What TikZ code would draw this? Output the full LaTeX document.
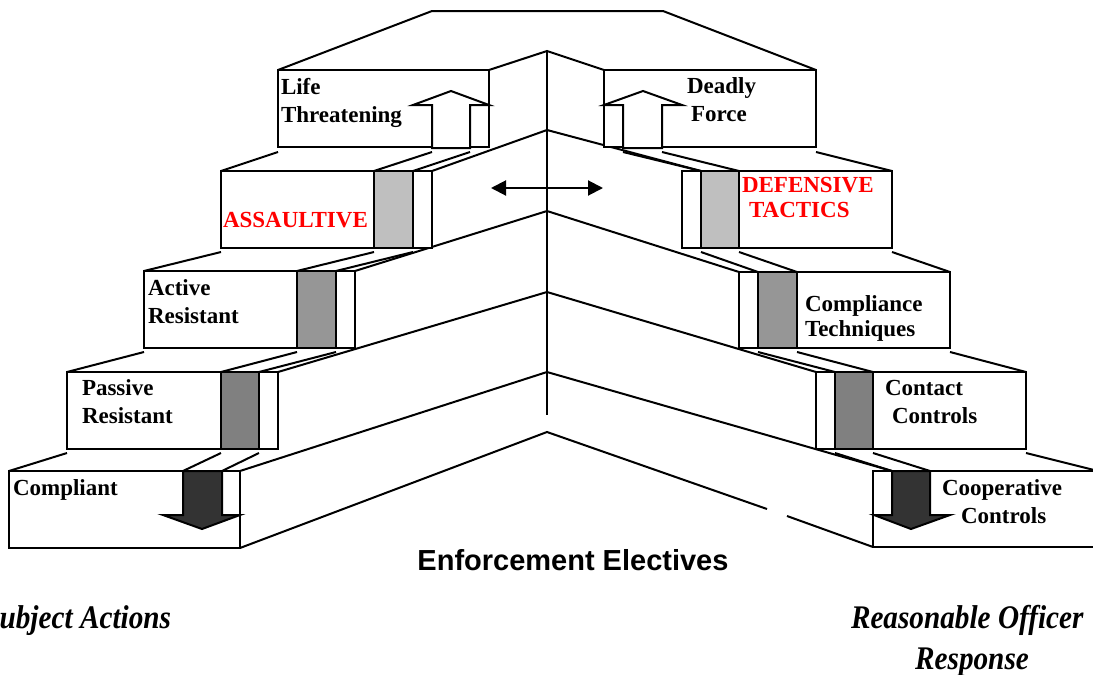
\documentclass[tikz,border=0pt]{standalone}
\usepackage{fontspec}
\setmainfont{Liberation Serif}
\newfontfamily\arialfont{Liberation Sans}
\usetikzlibrary{arrows.meta}

\definecolor{barlight}{rgb}{0.75,0.75,0.75}
\definecolor{barmid}{rgb}{0.59,0.59,0.59}
\definecolor{bardark}{rgb}{0.5,0.5,0.5}
\definecolor{arrowdark}{rgb}{0.2,0.2,0.2}
\definecolor{labelred}{rgb}{1,0,0}

\begin{document}
\begin{tikzpicture}[x=0.5pt, y=-0.5pt, line width=1pt,
  face/.style={draw, fill=white},
  steplabel/.style={font=\fontsize{11.5}{14}\selectfont\bfseries, inner sep=0pt,
    anchor=base west, text width=150pt, align=left},
  tightlabel/.style={steplabel, font=\fontsize{11.5}{12.5}\selectfont\bfseries},
  sidelabel/.style={font=\fontsize{16.5}{20}\selectfont\bfseries\itshape, inner sep=0pt}]
\useasboundingbox (0,0) rectangle (1093,675);
\fill[white] (0,0) rectangle (1093,675);

\draw (278,70) -- (432,11) -- (663,11) -- (816,70);
\draw (547,51) -- (547,415);
\draw (489,70) -- (547,51) -- (604,70);
\draw (432,171) -- (547,130) -- (701,171);
\draw (355,271) -- (547,211) -- (739,272);
\draw (278,372) -- (547,292) -- (816,372);
\draw (240,471) -- (547,372) -- (892,471);
\draw (240,548) -- (547,432) -- (767,509);
\draw (787,516) -- (873,547);

\draw (278,152) -- (221,171);
\draw (432,152) -- (374,171);
\draw (470,152) -- (413,171);
\draw (221,252) -- (144,271);
\draw (374,252) -- (297,271);
\draw (413,252) -- (336,271);
\draw (144,352) -- (67,372);
\draw (297,352) -- (221,372);
\draw (336,352) -- (259,372);
\draw (67,453) -- (9,471);
\draw (221,453) -- (183,471);
\draw (259,453) -- (222,471);

\draw (623,152) -- (701,171);
\draw (662,152) -- (739,171);
\draw (816,152) -- (892,171);
\draw (701,252) -- (758,272);
\draw (739,252) -- (797,272);
\draw (892,252) -- (950,272);
\draw (758,352) -- (835,372);
\draw (797,352) -- (873,372);
\draw (950,352) -- (1026,372);
\draw (835,453) -- (892,471);
\draw (873,453) -- (930,471);
\draw (1026,453) -- (1110,474);

\draw[face] (278,70) rectangle (489,147);
\draw[face] (432,148) -- (432,105) -- (413,105) -- (451,91) -- (489,105) -- (470,105) -- (470,148) -- cycle;
\draw[face] (221,171) rectangle (432,248);
\draw[fill=barlight] (374,171) rectangle (413,248);
\draw[face] (144,271) rectangle (355,348);
\draw[fill=barmid] (297,271) rectangle (336,348);
\draw[face] (67,372) rectangle (278,449);
\draw[fill=bardark] (221,372) rectangle (259,449);
\draw[face] (9,471) rectangle (240,548);
\draw[fill=arrowdark] (183,471) -- (183,515) -- (163,515) -- (202,529) -- (240,515) -- (222,515) -- (222,471) -- cycle;

\draw[face] (604,70) rectangle (816,147);
\draw[face] (623,148) -- (623,105) -- (604,105) -- (643,91) -- (682,105) -- (662,105) -- (662,148) -- cycle;
\draw[face] (682,171) rectangle (892,248);
\draw[fill=barlight] (701,171) rectangle (739,248);
\draw[face] (739,272) rectangle (950,348);
\draw[fill=barmid] (758,272) rectangle (797,348);
\draw[face] (816,372) rectangle (1026,449);
\draw[fill=bardark] (835,372) rectangle (873,449);
\draw[face] (873,471) rectangle (1110,547);
\draw[fill=arrowdark] (892,471) -- (892,515) -- (874,515) -- (911,529) -- (950,515) -- (930,515) -- (930,471) -- cycle;

\coordinate (swapleft) at (491,188);
\coordinate (swapright) at (603,188);
\draw[{Triangle[length=7.5pt,width=7.5pt]}-{Triangle[length=7.5pt,width=7.5pt]}] (swapleft) -- (swapright);

\node[steplabel] (life) at (280,94) {Life\\Threatening};
\node[steplabel] (deadly) at (686,93) {Deadly\\\hspace*{2pt}Force};
\node[steplabel, text=labelred] (assaultive) at (222,227) {ASSAULTIVE};
\node[tightlabel, text=labelred] (defensive) at (741,192) {DEFENSIVE\\\hspace*{3.5pt}TACTICS};
\node[steplabel] (active) at (147,295) {Active\\Resistant};
\node[tightlabel] (compliance) at (804,311) {Compliance\\Techniques};
\node[steplabel] (passive) at (81,395) {Passive\\Resistant};
\node[steplabel] (contact) at (884,395) {Contact\\\hspace*{3.5pt}Controls};
\node[steplabel] (compliant) at (12,495) {Compliant};
\node[steplabel] (cooperative) at (941,495) {Cooperative\\\hspace*{9.5pt}Controls};

\node[font={\arialfont\bfseries\fontsize{14.5}{17}\selectfont}, inner sep=0pt, anchor=base] (electives) at (573,570) {Enforcement Electives};
\node[sidelabel, anchor=base east] (subject) at (172,628) {\scalebox{0.886}[1]{Subject Actions}};
\node[sidelabel, anchor=base west] (officer) at (850,628) {\scalebox{0.886}[1]{Reasonable Officer}};
\node[sidelabel, anchor=base] (response) at (972,669) {\scalebox{0.886}[1]{Response}};
\end{tikzpicture}
\end{document}
